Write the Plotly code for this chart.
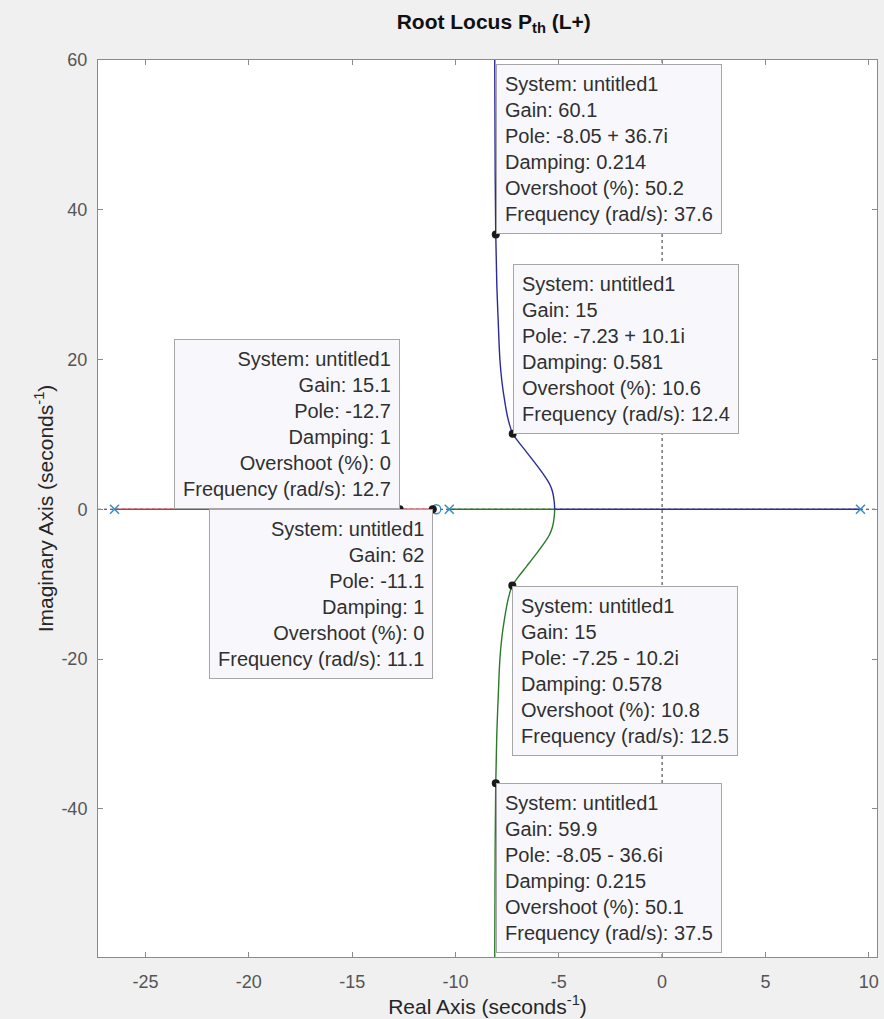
import plotly.graph_objects as go

# ---- data ----
poles_re = [-26.5, -10.3, 9.6]
poles_im = [0, 0, 0]
zeros_re = [-10.93]
zeros_im = [0]

red_re = [-26.5, -10.93]
red_im = [0, 0]

blue_axis_re = [9.6, -5.2]
blue_axis_im = [0, 0]
blue_re = [-5.2, -5.22, -5.3, -5.45, -5.7, -6.1, -6.55, -6.95, -7.23, -7.45, -7.62, -7.75, -7.85, -7.93, -8.0, -8.05, -8.08, -8.1]
blue_im = [0, 1.0, 2.3, 3.4, 4.5, 6.0, 7.6, 9.0, 10.1, 12.0, 14.5, 17.0, 20.0, 25.0, 30.0, 36.7, 45.0, 60.0]

green_axis_re = [-10.3, -5.2]
green_axis_im = [0, 0]
green_re = [-5.2, -5.22, -5.3, -5.45, -5.7, -6.1, -6.55, -6.95, -7.25, -7.45, -7.62, -7.75, -7.85, -7.93, -8.0, -8.05, -8.08, -8.1]
green_im = [0, -1.0, -2.3, -3.4, -4.5, -6.0, -7.6, -9.0, -10.2, -12.0, -14.5, -17.0, -20.0, -25.0, -30.0, -36.6, -45.0, -60.0]

tip_re = [-8.05, -7.23, -12.7, -11.1, -7.25, -8.05]
tip_im = [36.7, 10.1, 0, 0, -10.2, -36.6]
tip_gain = ["60.1", "15", "15.1", "62", "15", "59.9"]
tip_pole = ["-8.05 + 36.7i", "-7.23 + 10.1i", "-12.7", "-11.1", "-7.25 - 10.2i", "-8.05 - 36.6i"]
tip_damp = ["0.214", "0.581", "1", "1", "0.578", "0.215"]
tip_over = ["50.2", "10.6", "0", "0", "10.8", "50.1"]
tip_freq = ["37.6", "12.4", "12.7", "11.1", "12.5", "37.5"]
tip_xanchor = ["left", "left", "right", "right", "left", "left"]
tip_yanchor = ["bottom", "bottom", "bottom", "top", "top", "top"]

x_ticks = [-25, -20, -15, -10, -5, 0, 5, 10]
x_ticktext = ["-25", "-20", "-15", "-10", "-5", "0", "5", "10"]
y_ticks = [-40, -20, 0, 20, 40, 60]
y_ticktext = ["-40", "-20", "0", "20", "40", "60"]
x_range = [-27.3, 10.4]
y_range = [-59.8, 60]

FONT = "Liberation Sans, Arial, Helvetica, sans-serif"

fig = go.Figure()

# dotted axes lines
fig.add_trace(go.Scatter(x=[0, 0], y=y_range, mode="lines",
                         line=dict(color="#333333", width=1, dash="dot"),
                         hoverinfo="skip", showlegend=False))
fig.add_trace(go.Scatter(x=x_range, y=[0, 0], mode="lines",
                         line=dict(color="#333333", width=1, dash="dot"),
                         hoverinfo="skip", showlegend=False))

RED, GREEN, BLUE = "#c8323c", "#2a7a2a", "#2a2a9c"
fig.add_trace(go.Scatter(x=red_re, y=red_im, mode="lines",
                         line=dict(color=RED, width=1.5), showlegend=False))
fig.add_trace(go.Scatter(x=green_axis_re, y=green_axis_im, mode="lines",
                         line=dict(color=GREEN, width=1.4), showlegend=False))
fig.add_trace(go.Scatter(x=green_re, y=green_im, mode="lines", line_shape="spline",
                         line=dict(color=GREEN, width=1.4), showlegend=False))
fig.add_trace(go.Scatter(x=blue_axis_re, y=blue_axis_im, mode="lines",
                         line=dict(color=BLUE, width=1.4), showlegend=False))
fig.add_trace(go.Scatter(x=blue_re, y=blue_im, mode="lines", line_shape="spline",
                         line=dict(color=BLUE, width=1.4), showlegend=False))

fig.add_trace(go.Scatter(x=poles_re, y=poles_im, mode="markers",
                         marker=dict(symbol="x-thin", size=9, color="#3a8cc8",
                                     line=dict(color="#3a8cc8", width=1.5)),
                         showlegend=False))
fig.add_trace(go.Scatter(x=zeros_re, y=zeros_im, mode="markers",
                         marker=dict(symbol="circle-open", size=9, color="#3a8cc8",
                                     line=dict(color="#3a8cc8", width=1.3)),
                         showlegend=False))
fig.add_trace(go.Scatter(x=tip_re, y=tip_im, mode="markers",
                         marker=dict(symbol="circle", size=8, color="#1a1a1a"),
                         showlegend=False))

for i in range(len(tip_re)):
    lines = ["System: untitled1", "Gain: " + tip_gain[i], "Pole: " + tip_pole[i],
             "Damping: " + tip_damp[i], "Overshoot (%): " + tip_over[i],
             "Frequency (rad/s): " + tip_freq[i]]
    fig.add_annotation(x=tip_re[i], y=tip_im[i], xref="x", yref="y",
                       text="<br>".join(lines), showarrow=False,
                       xanchor=tip_xanchor[i], yanchor=tip_yanchor[i],
                       align=tip_xanchor[i],
                       font=dict(family=FONT, size=20, color="#303030"),
                       bgcolor="#f8f8fc", bordercolor="#a6a6a6", borderwidth=1,
                       borderpad=8)

fig.update_layout(
    width=884, height=1019,
    paper_bgcolor="#f0f0f0", plot_bgcolor="#ffffff",
    margin=dict(l=98, r=5, t=60, b=58),
    title=dict(text="<b>Root Locus P<sub>th</sub> (L+)</b>", x=0.5585, xanchor="center",
               y=0.979, yanchor="middle",
               font=dict(family=FONT, size=21, color="#111111")),
    font=dict(family=FONT),
)
fig.update_xaxes(range=x_range, tickvals=x_ticks, ticktext=x_ticktext,
                 showgrid=False, zeroline=False,
                 showline=True, mirror="ticks", linecolor="#8a8a8a", linewidth=1,
                 ticks="inside", ticklen=5, tickcolor="#8a8a8a", ticklabelstandoff=8,
                 tickfont=dict(size=18, color="#555555"),
                 title=dict(text="Real Axis (seconds<sup>-1</sup>)", standoff=8,
                            font=dict(size=21, color="#262626")))
fig.update_yaxes(range=y_range, tickvals=y_ticks, ticktext=y_ticktext,
                 showgrid=False, zeroline=False,
                 showline=True, mirror="ticks", linecolor="#8a8a8a", linewidth=1,
                 ticks="inside", ticklen=5, tickcolor="#8a8a8a", ticklabelstandoff=6,
                 tickfont=dict(size=18, color="#555555"),
                 title=dict(text="Imaginary Axis (seconds<sup>-1</sup>)", standoff=2,
                            font=dict(size=21, color="#262626")))

fig.write_html("out.html", config={"displayModeBar": False},
               post_script="document.body.style.margin='0';document.body.style.overflow='hidden';")
